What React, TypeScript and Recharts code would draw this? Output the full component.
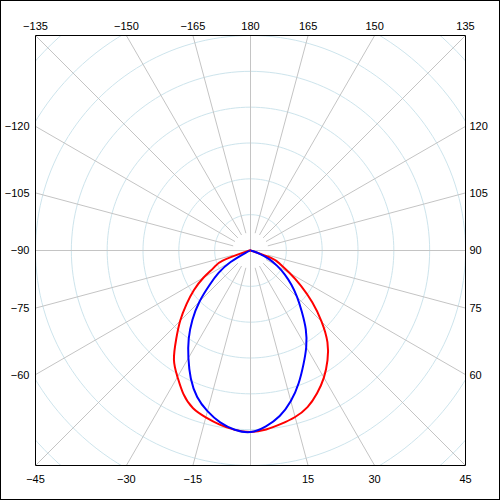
import React from 'react';
import { LineChart, Line, XAxis, YAxis } from 'recharts';

// Angles (degrees, 0 = down, 90 = right) at which the two curves were read
const CURVE_ANGLES = [
  -90, -85, -80, -75, -70, -65, -60, -55, -50, -45, -40, -35, -30, -25, -20, -15, -10, -5,
  0, 5, 10, 15, 20, 25, 30, 35, 40, 45, 50, 55, 60, 65, 70, 75, 80, 85, 90,
];
const RED_R = [
  0, 0, 0.005, 0.03, 0.165, 0.226, 0.302, 0.385, 0.466, 0.555, 0.645, 0.745, 0.815, 0.885, 0.937, 0.964, 0.987, 1.005,
  1.013, 1.003, 0.983, 0.962, 0.93, 0.879, 0.819, 0.749, 0.668, 0.561, 0.45, 0.344, 0.252, 0.185, 0.125, 0.01, 0.003, 0, 0,
];
const BLUE_R = [
  0, 0, 0.003, 0.006, 0.012, 0.03, 0.128, 0.216, 0.297, 0.402, 0.504, 0.601, 0.693, 0.788, 0.87, 0.928, 0.974, 1.004,
  1.013, 0.985, 0.938, 0.87, 0.787, 0.7, 0.622, 0.538, 0.445, 0.368, 0.298, 0.234, 0.172, 0.117, 0.058, 0.012, 0.004, 0.001, 0,
];

// Grid
const RING_RADII = [0.2, 0.4, 0.6, 0.8, 1.0, 1.2, 1.4, 1.6];
const SPOKE_ANGLES = [-165, -150, -135, -120, -105, -90, -75, -60, -45, -30, -15, 0, 15, 30, 45, 60, 75, 90, 105, 120, 135, 150, 165, 180];
const THROUGH_CENTER = [-90, 0, 90, 180];
const SPOKE_INNER = 0.1;
const HALF = 1.2;

// Tick labels on the four sides of the frame
const TOP_LABELS = [-135, -150, -165, 180, 165, 150, 135];
const BOTTOM_LABELS = [-45, -30, -15, 15, 30, 45];
const LEFT_LABELS = [-120, -105, -90, -75, -60];
const RIGHT_LABELS = [120, 105, 90, 75, 60];

const rad = (d: number) => (d * Math.PI) / 180;
const clean = (v: number) => Math.round(v * 1e9) / 1e9;
const polar = (deg: number, r: number) => ({
  x: clean(r * Math.sin(rad(deg))),
  y: clean(-r * Math.cos(rad(deg))),
});
const edgeR = (deg: number) =>
  HALF / Math.max(Math.abs(Math.sin(rad(deg))), Math.abs(Math.cos(rad(deg))));

const redData = CURVE_ANGLES.map((a, i) => polar(a, RED_R[i]));
const blueData = CURVE_ANGLES.map((a, i) => polar(a, BLUE_R[i]));

const ringSteps: number[] = [];
for (let a = 0; a <= 360; a += 2) ringSteps.push(a);
const ringData = RING_RADII.map((r) => ringSteps.map((a) => polar(a, r)));

const spokeData = SPOKE_ANGLES.map((a) => [
  polar(a, THROUGH_CENTER.includes(a) ? 0 : SPOKE_INNER),
  polar(a, edgeR(a)),
]);

const topTicks = TOP_LABELS.map((a) => polar(a, edgeR(a)).x);
const bottomTicks = BOTTOM_LABELS.map((a) => polar(a, edgeR(a)).x);
const leftTicks = LEFT_LABELS.map((a) => polar(a, edgeR(a)).y);
const rightTicks = RIGHT_LABELS.map((a) => polar(a, edgeR(a)).y);

const fmt = (a: number) => (a < 0 ? '\u2212' + Math.abs(a) : String(a));
const makeFormatter = (ticks: number[], labels: number[]) => (v: number) => {
  let best = 0;
  for (let i = 1; i < ticks.length; i++) {
    if (Math.abs(ticks[i] - v) < Math.abs(ticks[best] - v)) best = i;
  }
  return fmt(labels[best]);
};

const FONT = "'Liberation Sans', Arial, sans-serif";
const tickStyle = { fill: '#000', fontSize: 11, fontFamily: FONT };
const axisLine = { stroke: '#000', strokeWidth: 1 };

export default function App() {
  return (
    <div style={{ position: 'absolute', left: 0, top: 0, width: 500, height: 500, background: '#fff' }}>
      <LineChart
        width={500}
        height={500}
        margin={{ top: 5.5, left: 5.5, right: 4.5, bottom: 4.5 }}
        style={{ fontFamily: FONT }}
      >
        <XAxis
          xAxisId="b"
          type="number"
          dataKey="x"
          orientation="bottom"
          domain={[-HALF, HALF]}
          allowDataOverflow
          height={30}
          ticks={bottomTicks}
          interval={0}
          tickFormatter={makeFormatter(bottomTicks, BOTTOM_LABELS)}
          tickLine={false}
          tickSize={6}
          tickMargin={4}
          axisLine={axisLine}
          tick={tickStyle}
        />
        <XAxis
          xAxisId="t"
          type="number"
          dataKey="x"
          orientation="top"
          domain={[-HALF, HALF]}
          allowDataOverflow
          height={30}
          ticks={topTicks}
          interval={0}
          tickFormatter={makeFormatter(topTicks, TOP_LABELS)}
          tickLine={false}
          tickSize={6}
          tickMargin={0}
          axisLine={axisLine}
          tick={tickStyle}
        />
        <YAxis
          yAxisId="l"
          type="number"
          orientation="left"
          domain={[-HALF, HALF]}
          allowDataOverflow
          width={30}
          ticks={leftTicks}
          interval={0}
          tickFormatter={makeFormatter(leftTicks, LEFT_LABELS)}
          tickLine={false}
          tickSize={6}
          tickMargin={0}
          axisLine={axisLine}
          tick={tickStyle}
        />
        <YAxis
          yAxisId="r"
          type="number"
          orientation="right"
          domain={[-HALF, HALF]}
          allowDataOverflow
          width={30}
          ticks={rightTicks}
          interval={0}
          tickFormatter={makeFormatter(rightTicks, RIGHT_LABELS)}
          tickLine={false}
          tickSize={4}
          tickMargin={0}
          axisLine={axisLine}
          tick={tickStyle}
        />
        {ringData.map((d, i) => (
          <Line
            key={'ring' + i}
            xAxisId="b"
            yAxisId="l"
            data={d}
            dataKey="y"
            type="linear"
            stroke="#cde4ec"
            strokeWidth={1}
            dot={false}
            activeDot={false}
            isAnimationActive={false}
          />
        ))}
        {spokeData.map((d, i) => (
          <Line
            key={'spoke' + i}
            xAxisId="b"
            yAxisId="l"
            data={d}
            dataKey="y"
            type="linear"
            stroke="#c4c4c4"
            strokeWidth={1}
            dot={false}
            activeDot={false}
            isAnimationActive={false}
          />
        ))}
        <Line
          xAxisId="b"
          yAxisId="l"
          data={redData}
          dataKey="y"
          type="natural"
          stroke="#ff0000"
          strokeWidth={2}
          dot={false}
          activeDot={false}
          isAnimationActive={false}
        />
        <Line
          xAxisId="b"
          yAxisId="l"
          data={blueData}
          dataKey="y"
          type="natural"
          stroke="#0000ff"
          strokeWidth={2}
          dot={false}
          activeDot={false}
          isAnimationActive={false}
        />
      </LineChart>
      <div
        style={{
          position: 'absolute',
          left: 0,
          top: 0,
          width: 500,
          height: 500,
          border: '1px solid #000',
          boxSizing: 'border-box',
          pointerEvents: 'none',
        }}
      />
    </div>
  );
}
